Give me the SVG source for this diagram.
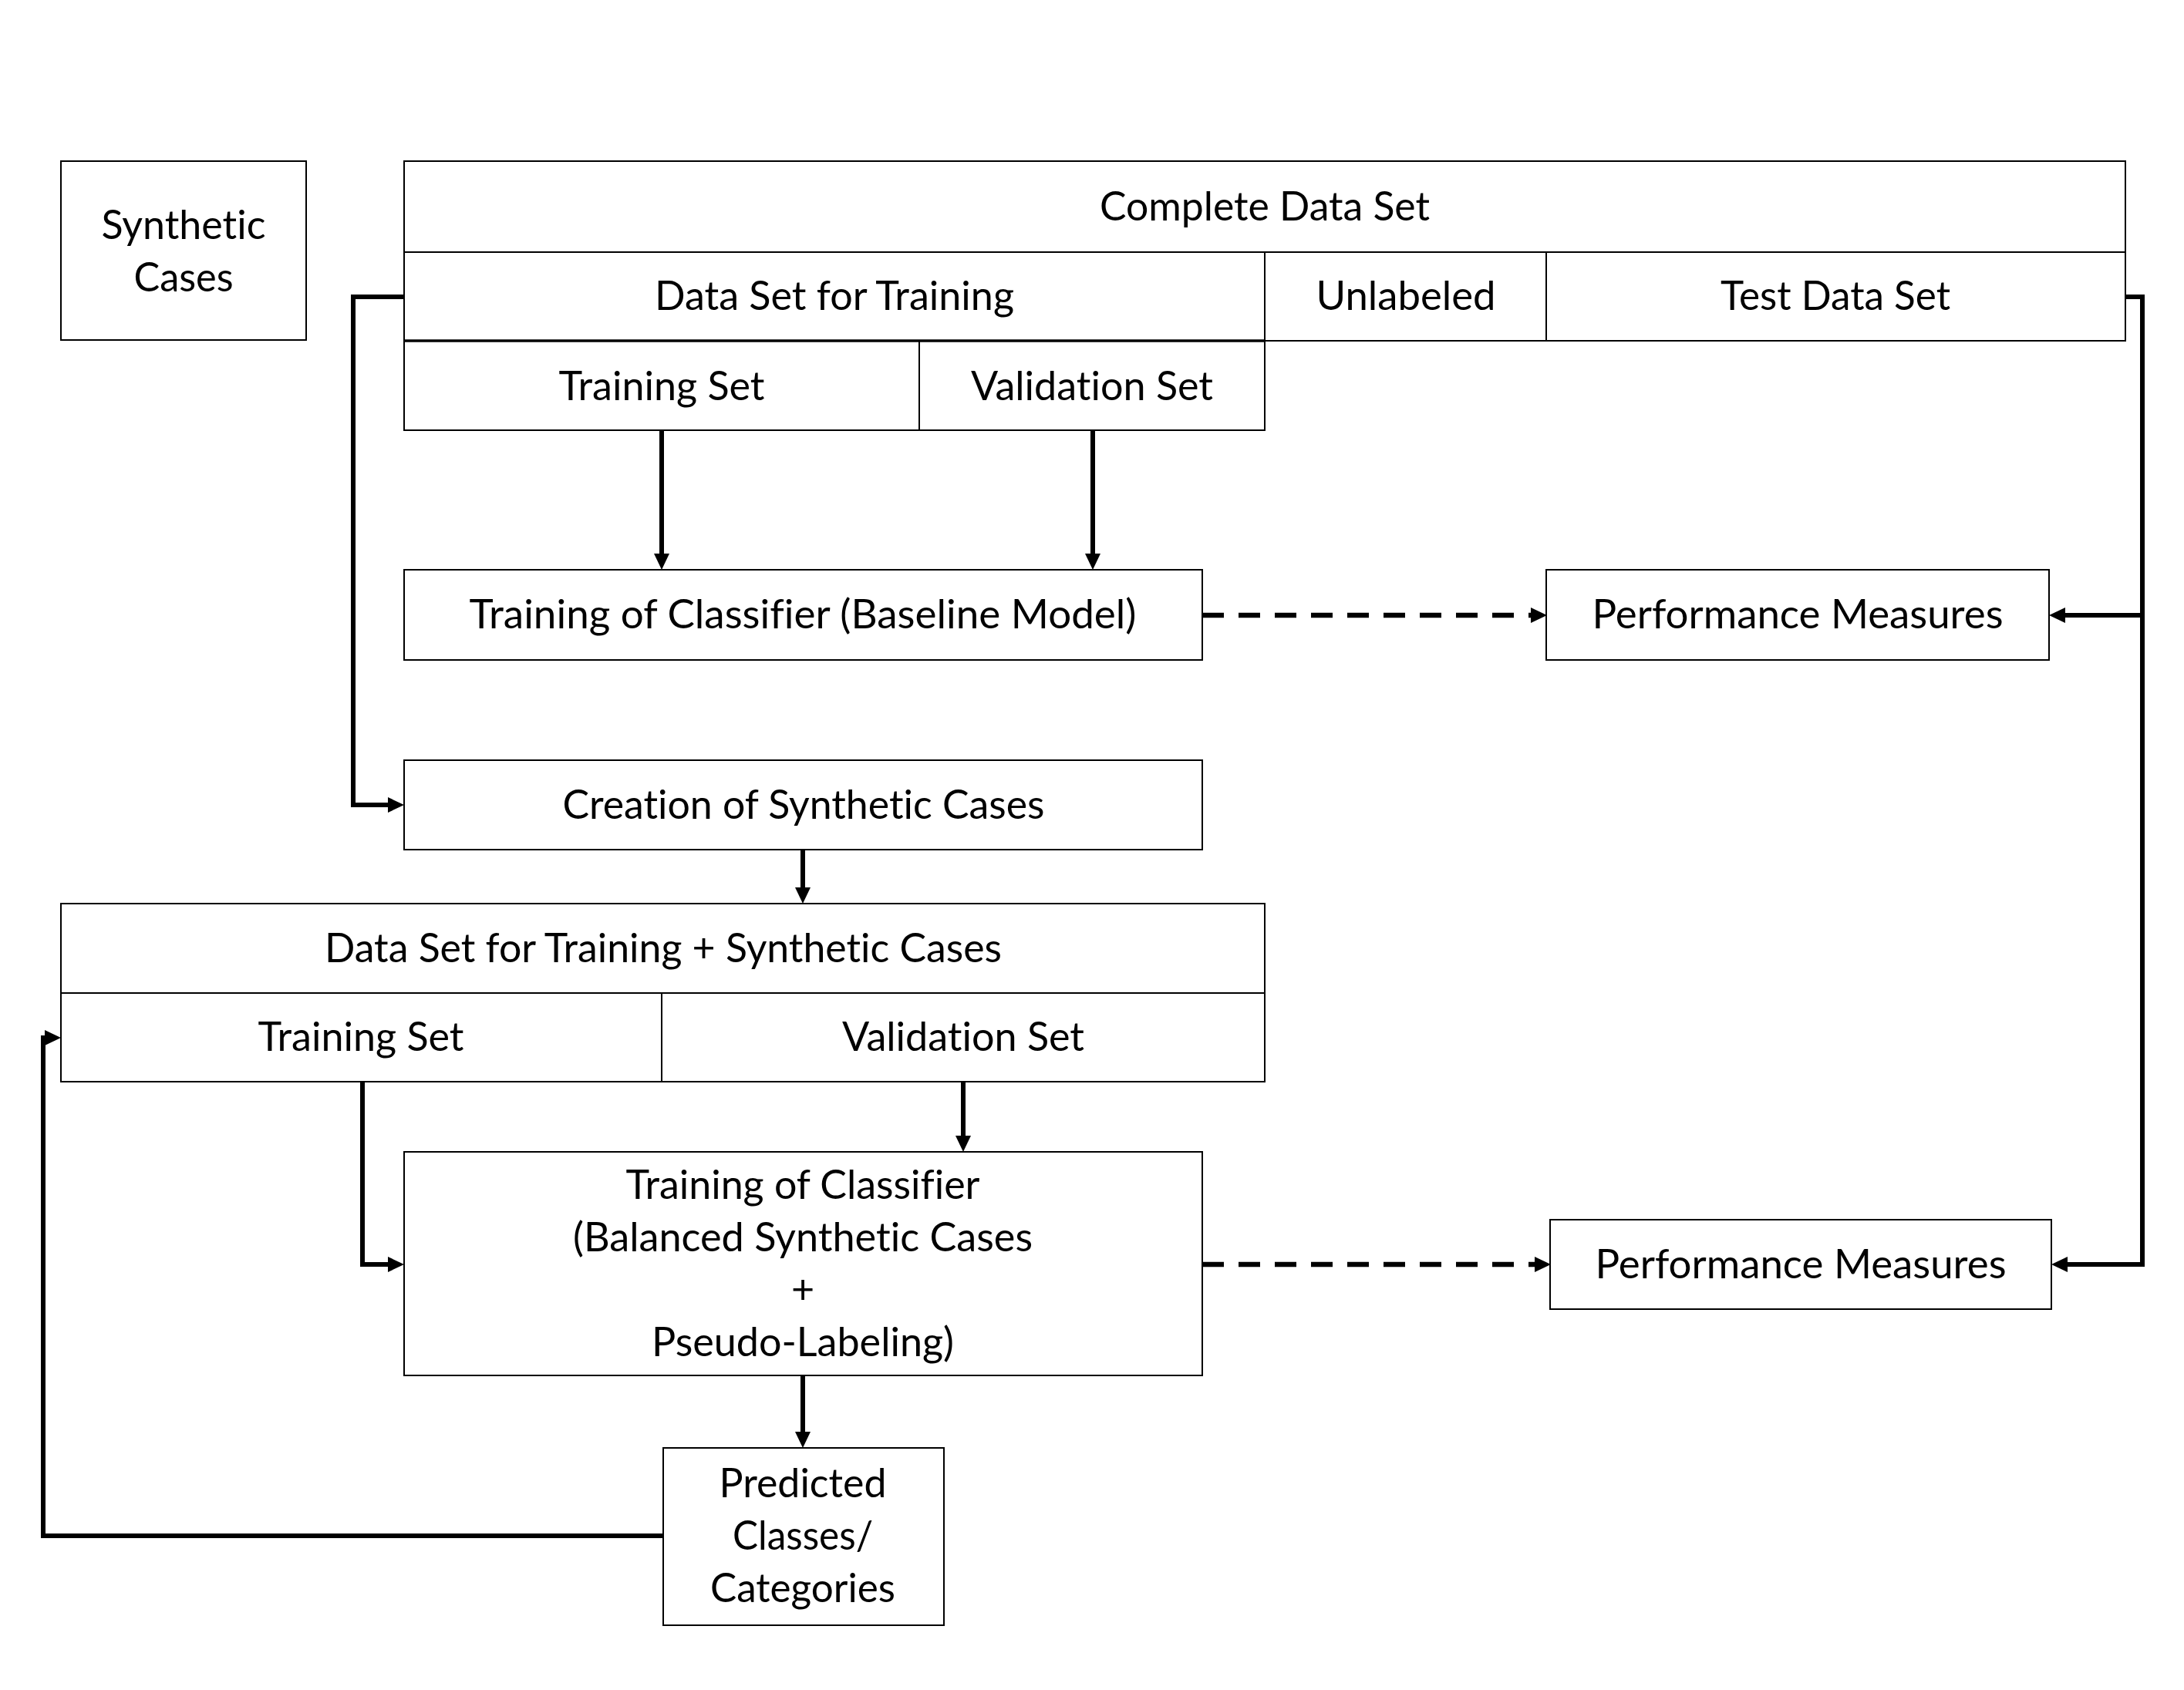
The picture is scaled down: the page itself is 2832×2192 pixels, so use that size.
<svg xmlns="http://www.w3.org/2000/svg" width="2832" height="2192" viewBox="0 0 2832 2192">
<style>
.box{fill:#fff;stroke:#000;stroke-width:2}
.t{font-family:Lato,"Open Sans",sans-serif;font-size:52px;fill:#000;text-anchor:middle;font-variant-ligatures:none}
.c{fill:none;stroke:#000;stroke-width:6}
.d{fill:none;stroke:#000;stroke-width:6.5;stroke-dasharray:28 19}
</style>
<defs>
<marker id="ah" markerUnits="userSpaceOnUse" markerWidth="22" markerHeight="22" refX="0" refY="10" orient="auto" overflow="visible">
<path d="M0,0 L21,10 L0,20 Z" fill="#000"/>
</marker>
</defs>
<rect width="2832" height="2192" fill="#fff"/>
<g id="synthetic-cases">
<rect class="box" x="79" y="209" width="318" height="232"/>
<text class="t" x="238" y="310" textLength="213" lengthAdjust="spacingAndGlyphs">Synthetic</text>
<text class="t" x="238" y="378" textLength="129" lengthAdjust="spacingAndGlyphs">Cases</text>
</g>
<g id="complete-data-set">
<rect class="box" x="524" y="209" width="2232" height="118"/>
<text class="t" x="1640" y="286" textLength="428" lengthAdjust="spacingAndGlyphs">Complete Data Set</text>
</g>
<g id="data-set-for-training">
<rect class="box" x="524" y="327" width="1116" height="115"/>
<text class="t" x="1082" y="402" textLength="466" lengthAdjust="spacingAndGlyphs">Data Set for Training</text>
</g>
<g id="unlabeled">
<rect class="box" x="1640" y="327" width="365" height="115"/>
<text class="t" x="1823" y="402" textLength="233" lengthAdjust="spacingAndGlyphs">Unlabeled</text>
</g>
<g id="test-data-set">
<rect class="box" x="2005" y="327" width="751" height="115"/>
<text class="t" x="2380" y="402" textLength="298" lengthAdjust="spacingAndGlyphs">Test Data Set</text>
</g>
<g id="training-set-1">
<rect class="box" x="524" y="442" width="668" height="116"/>
<text class="t" x="858" y="519" textLength="267" lengthAdjust="spacingAndGlyphs">Training Set</text>
</g>
<g id="validation-set-1">
<rect class="box" x="1192" y="442" width="448" height="116"/>
<text class="t" x="1416" y="519" textLength="314" lengthAdjust="spacingAndGlyphs">Validation Set</text>
</g>
<line x1="524" y1="442" x2="1640" y2="442" stroke="#000" stroke-width="3.5"/>
<g id="training-baseline">
<rect class="box" x="524" y="739" width="1035" height="117"/>
<text class="t" x="1041" y="815" textLength="865" lengthAdjust="spacingAndGlyphs">Training of Classifier (Baseline Model)</text>
</g>
<g id="performance-1">
<rect class="box" x="2005" y="739" width="652" height="117"/>
<text class="t" x="2331" y="815" textLength="533" lengthAdjust="spacingAndGlyphs">Performance Measures</text>
</g>
<g id="creation-synthetic">
<rect class="box" x="524" y="986" width="1035" height="116"/>
<text class="t" x="1042" y="1062" textLength="625" lengthAdjust="spacingAndGlyphs">Creation of Synthetic Cases</text>
</g>
<g id="data-set-plus-synthetic">
<rect class="box" x="79" y="1172" width="1561" height="116"/>
<text class="t" x="860" y="1248" textLength="878" lengthAdjust="spacingAndGlyphs">Data Set for Training + Synthetic Cases</text>
</g>
<g id="training-set-2">
<rect class="box" x="79" y="1288" width="779" height="115"/>
<text class="t" x="468" y="1363" textLength="267" lengthAdjust="spacingAndGlyphs">Training Set</text>
</g>
<g id="validation-set-2">
<rect class="box" x="858" y="1288" width="782" height="115"/>
<text class="t" x="1249" y="1363" textLength="314" lengthAdjust="spacingAndGlyphs">Validation Set</text>
</g>
<g id="training-balanced">
<rect class="box" x="524" y="1494" width="1035" height="290"/>
<text class="t" x="1041" y="1555" textLength="459" lengthAdjust="spacingAndGlyphs">Training of Classifier</text>
<text class="t" x="1041" y="1623" textLength="596" lengthAdjust="spacingAndGlyphs">(Balanced Synthetic Cases</text>
<text class="t" x="1041" y="1691">+</text>
<text class="t" x="1041" y="1759" textLength="392" lengthAdjust="spacingAndGlyphs">Pseudo-Labeling)</text>
</g>
<g id="performance-2">
<rect class="box" x="2010" y="1582" width="650" height="116"/>
<text class="t" x="2335" y="1658" textLength="533" lengthAdjust="spacingAndGlyphs">Performance Measures</text>
</g>
<g id="predicted-classes">
<rect class="box" x="860" y="1878" width="364" height="230"/>
<text class="t" x="1041" y="1942" textLength="217" lengthAdjust="spacingAndGlyphs">Predicted</text>
<text class="t" x="1041" y="2010" textLength="182" lengthAdjust="spacingAndGlyphs">Classes/</text>
<text class="t" x="1041" y="2078" textLength="240" lengthAdjust="spacingAndGlyphs">Categories</text>
</g>
<g id="connectors">
<path class="c" d="M858,558 V718" marker-end="url(#ah)"/>
<path class="c" d="M1417,558 V718" marker-end="url(#ah)"/>
<path class="c" d="M524,385 H458 V1044 H503" marker-end="url(#ah)"/>
<path class="d" d="M1559,798 H1985" marker-end="url(#ah)"/>
<path class="c" d="M2756,385 H2778 V1640 H2681" marker-end="url(#ah)"/>
<path class="c" d="M2778,798 H2678" marker-end="url(#ah)"/>
<path class="c" d="M1041,1102 V1151" marker-end="url(#ah)"/>
<path class="c" d="M1249,1403 V1473" marker-end="url(#ah)"/>
<path class="c" d="M470,1403 V1640 H503" marker-end="url(#ah)"/>
<path class="d" d="M1559,1640 H1990" marker-end="url(#ah)"/>
<path class="c" d="M1041,1784 V1857" marker-end="url(#ah)"/>
<path class="c" d="M860,1992 H56 V1346 H58" marker-end="url(#ah)"/>
</g>
</svg>
